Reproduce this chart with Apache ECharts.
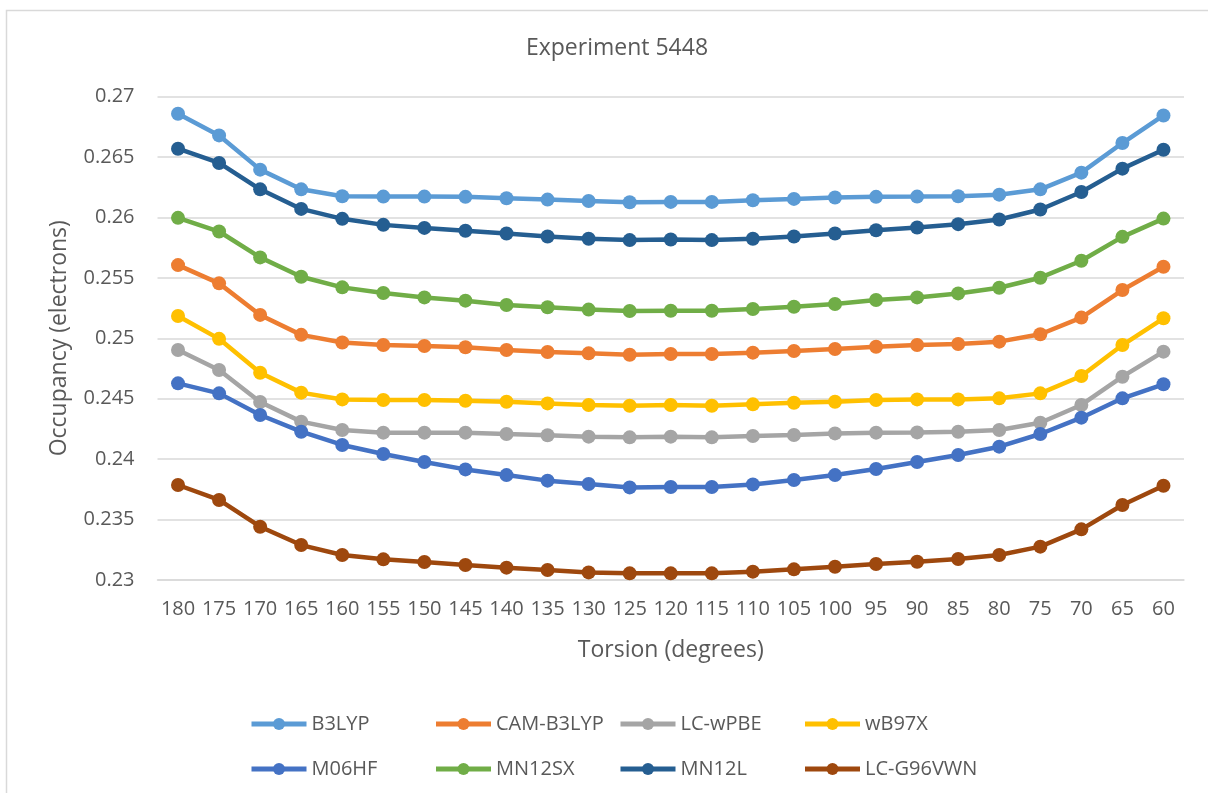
<!DOCTYPE html>
<html>
<head>
<meta charset="utf-8">
<title>Experiment 5448</title>
<script src="https://cdn.jsdelivr.net/npm/echarts@6/dist/echarts.min.js"></script>
<style>
  html, body { margin: 0; padding: 0; background: #ffffff; }
  #chart { width: 1208px; height: 793px; }
</style>
</head>
<body>
<div id="chart"></div>
<script>
// Torsion angles along the category axis
const torsion = [180, 175, 170, 165, 160, 155, 150, 145, 140, 135, 130, 125, 120,
                 115, 110, 105, 100, 95, 90, 85, 80, 75, 70, 65, 60];

// Occupancy (electrons) per functional
const b3lyp = [0.26857, 0.26678, 0.26395, 0.26232, 0.26175, 0.26172, 0.26172, 0.26170, 0.26158,
               0.26147, 0.26136, 0.26125, 0.26128, 0.26128, 0.26142, 0.26153, 0.26164, 0.26170,
               0.26172, 0.26175, 0.26188, 0.26232, 0.26370, 0.26615, 0.26843];
const camB3lyp = [0.25605, 0.25454, 0.25193, 0.25028, 0.24965, 0.24944, 0.24936, 0.24925, 0.24903,
                  0.24886, 0.24875, 0.24864, 0.24870, 0.24870, 0.24881, 0.24894, 0.24911, 0.24930,
                  0.24944, 0.24952, 0.24972, 0.25033, 0.25171, 0.25399, 0.25591];
const lcWpbe = [0.24903, 0.24737, 0.24472, 0.24310, 0.24241, 0.24219, 0.24219, 0.24219, 0.24208,
                0.24197, 0.24186, 0.24180, 0.24186, 0.24180, 0.24191, 0.24199, 0.24213, 0.24219,
                0.24221, 0.24227, 0.24241, 0.24301, 0.24448, 0.24682, 0.24889];
const wb97x = [0.25184, 0.24995, 0.24715, 0.24550, 0.24494, 0.24489, 0.24489, 0.24483, 0.24475,
               0.24461, 0.24448, 0.24442, 0.24448, 0.24442, 0.24453, 0.24467, 0.24475, 0.24489,
               0.24494, 0.24494, 0.24503, 0.24544, 0.24688, 0.24944, 0.25165];
const m06hf = [0.24627, 0.24544, 0.24365, 0.24227, 0.24117, 0.24042, 0.23976, 0.23915, 0.23868,
               0.23822, 0.23794, 0.23766, 0.23769, 0.23769, 0.23791, 0.23827, 0.23868, 0.23918,
               0.23976, 0.24034, 0.24103, 0.24208, 0.24343, 0.24503, 0.24619];
const mn12sx = [0.25996, 0.25883, 0.25669, 0.25509, 0.25421, 0.25374, 0.25338, 0.25311, 0.25275,
                0.25256, 0.25237, 0.25226, 0.25228, 0.25228, 0.25242, 0.25261, 0.25283, 0.25316,
                0.25338, 0.25371, 0.25418, 0.25501, 0.25641, 0.25839, 0.25990];
const mn12l = [0.26568, 0.26450, 0.26232, 0.26070, 0.25988, 0.25938, 0.25913, 0.25889, 0.25867,
               0.25842, 0.25823, 0.25812, 0.25817, 0.25812, 0.25823, 0.25842, 0.25867, 0.25894,
               0.25916, 0.25944, 0.25982, 0.26065, 0.26210, 0.26403, 0.26560];
const lcG96vwn = [0.23786, 0.23662, 0.23441, 0.23289, 0.23207, 0.23171, 0.23149, 0.23124, 0.23102,
                  0.23083, 0.23063, 0.23055, 0.23055, 0.23055, 0.23069, 0.23088, 0.23110, 0.23132,
                  0.23151, 0.23174, 0.23207, 0.23276, 0.23419, 0.23620, 0.23780];

const seriesNames = ['B3LYP', 'CAM-B3LYP', 'LC-wPBE', 'wB97X', 'M06HF', 'MN12SX', 'MN12L', 'LC-G96VWN'];
const seriesData = [b3lyp, camB3lyp, lcWpbe, wb97x, m06hf, mn12sx, mn12l, lcG96vwn];
const seriesColors = ['#5B9BD5', '#ED7D31', '#A5A5A5', '#FFC000', '#4472C4', '#70AD47', '#255E91', '#9E480E'];

const FONT = '"Open Sans", "Noto Sans", sans-serif';
const TEXT = '#595959';
const GRID = '#D9D9D9';

// legend grid: four columns, two rows
const legendCols = [249, 433.5, 618, 802.5];
const legendRows = [714, 759];

const chart = echarts.init(document.getElementById('chart'), null, { renderer: 'canvas' });

// one legend entry per cell so the columns stay aligned
const legends = seriesNames.map((name, i) => ({
  data: [name],
  left: legendCols[i % 4],
  top: legendRows[Math.floor(i / 4)],
  padding: 0,
  itemWidth: 55,
  itemHeight: 15,
  lineStyle: { width: 5 },
  textStyle: { color: TEXT, fontFamily: FONT, fontSize: 20 },
  selectedMode: false
}));

chart.setOption({
  backgroundColor: '#ffffff',
  animation: false,
  title: {
    text: 'Experiment 5448',
    left: 612,
    top: 32,
    textAlign: 'center',
    textStyle: { color: TEXT, fontFamily: FONT, fontSize: 23, fontWeight: 'normal' }
  },
  graphic: [{
    type: 'rect',
    shape: { x: 6.5, y: 10.5, width: 1300, height: 900 },
    style: { fill: 'none', stroke: GRID, lineWidth: 1.5 },
    silent: true,
    z: -1
  }],
  legend: legends,
  grid: { left: 157.5, right: 24, top: 96.5, bottom: 213, containLabel: false },
  xAxis: {
    type: 'category',
    data: torsion,
    boundaryGap: true,
    name: 'Torsion (degrees)',
    nameLocation: 'middle',
    nameGap: 59,
    nameTextStyle: { color: TEXT, fontFamily: FONT, fontSize: 23 },
    axisLine: { lineStyle: { color: GRID, width: 1.5 } },
    axisTick: { show: false },
    axisLabel: { interval: 0, color: TEXT, fontFamily: FONT, fontSize: 20, margin: 19 },
    splitLine: { show: false }
  },
  yAxis: {
    type: 'value',
    min: 0.23,
    max: 0.27,
    interval: 0.005,
    name: 'Occupancy (electrons)',
    nameLocation: 'middle',
    nameGap: 87,
    nameTextStyle: { color: TEXT, fontFamily: FONT, fontSize: 23 },
    axisLine: { show: false },
    axisTick: { show: false },
    axisLabel: { color: TEXT, fontFamily: FONT, fontSize: 20, margin: 23 },
    splitLine: { lineStyle: { color: GRID, width: 1.5 } }
  },
  series: seriesNames.map((name, i) => ({
    name: name,
    type: 'line',
    data: seriesData[i],
    color: seriesColors[i],
    symbol: 'circle',
    symbolSize: 14,
    lineStyle: { width: 4.5, color: seriesColors[i] },
    itemStyle: { color: seriesColors[i] },
    z: 2 + i
  }))
});
</script>
</body>
</html>
